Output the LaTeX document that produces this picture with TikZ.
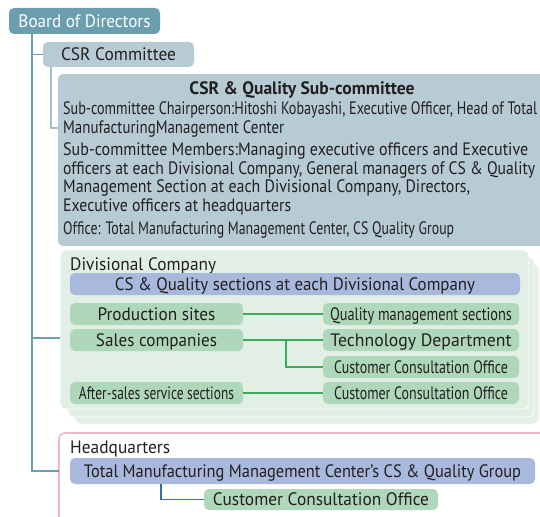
\documentclass[tikz,border=0pt]{standalone}
\usepackage{fontspec}
\usepackage{graphicx}
\setmainfont{PT Sans}
\usetikzlibrary{positioning}

\definecolor{boardc}{HTML}{6B9EAF}
\definecolor{csrc}{HTML}{B7CBD5}
\definecolor{divc}{HTML}{E2EFE4}
\definecolor{lavc}{HTML}{A9B9DD}
\definecolor{greenc}{HTML}{AFD8BA}
\definecolor{pinkc}{HTML}{F2B6CD}
\definecolor{inkc}{HTML}{231F20}
\definecolor{greenl}{HTML}{3DAA5A}
\definecolor{bluel}{HTML}{3B6DB5}
\definecolor{csrl}{HTML}{A3BCC8}

% text squeezed to the width it has in the chart
\newcommand\fitto[2]{\resizebox{#1pt}{\height}{#2}}

\tikzset{
  box/.style={rounded corners=5pt,inner sep=0pt,text=inkc,text height=15pt,text depth=2.4pt,font=\fontsize{18}{19}\selectfont},
  boardbox/.style={box,fill=boardc,text=white},
  csrbox/.style={box,fill=csrc},
  lavbox/.style={box,fill=lavc},
  greenbox/.style={box,fill=greenc,minimum height=22pt},
  layer/.style={rounded corners=6pt,fill=divc,draw=white,line width=0.8pt},
  label/.style={inner sep=0pt,text=inkc,text height=15pt,text depth=2.4pt,font=\fontsize{18}{19}\selectfont},
  trunk/.style={draw=boardc,line width=1.2pt},
  csrlink/.style={draw=csrl,line width=1.2pt},
  greenlink/.style={draw=greenl,line width=1.1pt},
  bluelink/.style={draw=bluel,line width=1.2pt}
}

\begin{document}
\begin{tikzpicture}[x=1pt,y=-1pt]
  \clip (0,0) rectangle (540,516);
  \fill[white] (0,0) rectangle (540,516);

  % top of the tree
  \node[boardbox,minimum width=151pt,minimum height=26pt] (board) at (84.5,21) {\fitto{132}{Board of Directors}};
  \node[csrbox,minimum width=151pt,minimum height=25pt] (csr) at (118.5,54.5) {\fitto{115}{CSR Committee}};

  % sub-committee panel
  \fill[csrc,rounded corners=5pt] (58,74) rectangle (560,246);
  \coordinate (sub) at (58,74);
  \node[label,font=\fontsize{18}{19}\bfseries] (subtitle) at (302,88) {\fitto{225}{CSR \& Quality Sub-committee}};
  \node[label,anchor=west] (chair1) at (63,108) {\fitto{474}{Sub-committee Chairperson:Hitoshi Kobayashi, Executive Officer, Head of Total}};
  \node[label,anchor=west] (chair2) at (63,127) {\fitto{221}{ManufacturingManagement Center}};
  \node[label,anchor=west] (memb1) at (63,149) {\fitto{465}{Sub-committee Members:Managing executive officers and Executive}};
  \node[label,anchor=west] (memb2) at (63,168) {\fitto{472}{officers at each Divisional Company, General managers of CS \& Quality}};
  \node[label,anchor=west] (memb3) at (63,186) {\fitto{407}{Management Section at each Divisional Company, Directors,}};
  \node[label,anchor=west] (memb4) at (63,205) {\fitto{228}{Executive officers at headquarters}};
  \node[label,anchor=west] (office) at (63,228) {\fitto{391}{Office: Total Manufacturing Management Center, CS Quality Group}};

  % divisional company stack
  \path[layer] (75,264) rectangle (539,424);
  \path[layer] (68,257) rectangle (534,417);
  \node[layer,minimum width=469pt,minimum height=159pt,inner sep=0pt] (div) at (294.5,329.5) {};
  \node[label,anchor=west] (divlabel) at (70,264) {\fitto{146}{Divisional Company}};
  \node[lavbox,minimum width=450pt,minimum height=22pt] (csq) at (295,284) {\fitto{360}{CS \& Quality sections at each Divisional Company}};

  \node[greenbox,minimum width=173pt] (prod) at (156.5,314) {\fitto{118}{Production sites}};
  \node[greenbox,minimum width=173pt] (sales) at (156.5,340) {\fitto{121}{Sales companies}};
  \node[greenbox,minimum width=173pt] (after) at (156.5,393) {\fitto{155}{After-sales service sections}};

  \node[greenbox,minimum width=196pt] (qms) at (421,314) {\fitto{182}{Quality management sections}};
  \node[greenbox,minimum width=196pt] (tech) at (421,340) {\fitto{181}{Technology Department}};
  \node[greenbox,minimum width=196pt] (cco1) at (421,367) {\fitto{174}{Customer Consultation Office}};
  \node[greenbox,minimum width=196pt] (cco2) at (421,393) {\fitto{174}{Customer Consultation Office}};

  \draw[greenlink] (prod.east) -- (qms.west);
  \draw[greenlink] (sales.east) -- (tech.west);
  \draw[greenlink] (sales.east -| 286,0) |- (cco1.west);
  \draw[greenlink] (after.east) -- (cco2.west);

  % headquarters
  \draw[draw=pinkc,fill=white,line width=1.6pt,rounded corners=6pt] (59,433) rectangle (560,540);
  \coordinate (hq) at (59,471);
  \node[label,anchor=west] (hqlabel) at (70,447) {\fitto{100}{Headquarters}};
  \node[lavbox,minimum width=465pt,minimum height=26pt] (hqbar) at (302.5,471) {\fitto{437}{Total Manufacturing Management Center's CS \& Quality Group}};
  \node[greenbox,minimum width=234pt,minimum height=21pt] (cco3) at (321,499.5) {\fitto{216}{Customer Consultation Office}};
  \draw[bluelink] (hqbar.south -| 161,0) |- (cco3.west);

  % connectors of the tree
  \coordinate (trunk) at (32,0);
  \draw[trunk] (board.south -| trunk) |- (hq);
  \draw[trunk] (trunk |- csr.west) -- (csr.west);
  \draw[trunk] (trunk |- 0,338) -- (div.west |- 0,338);
  \draw[csrlink] (csr.south -| 51,0) |- (sub |- 0,128);
\end{tikzpicture}
\end{document}
